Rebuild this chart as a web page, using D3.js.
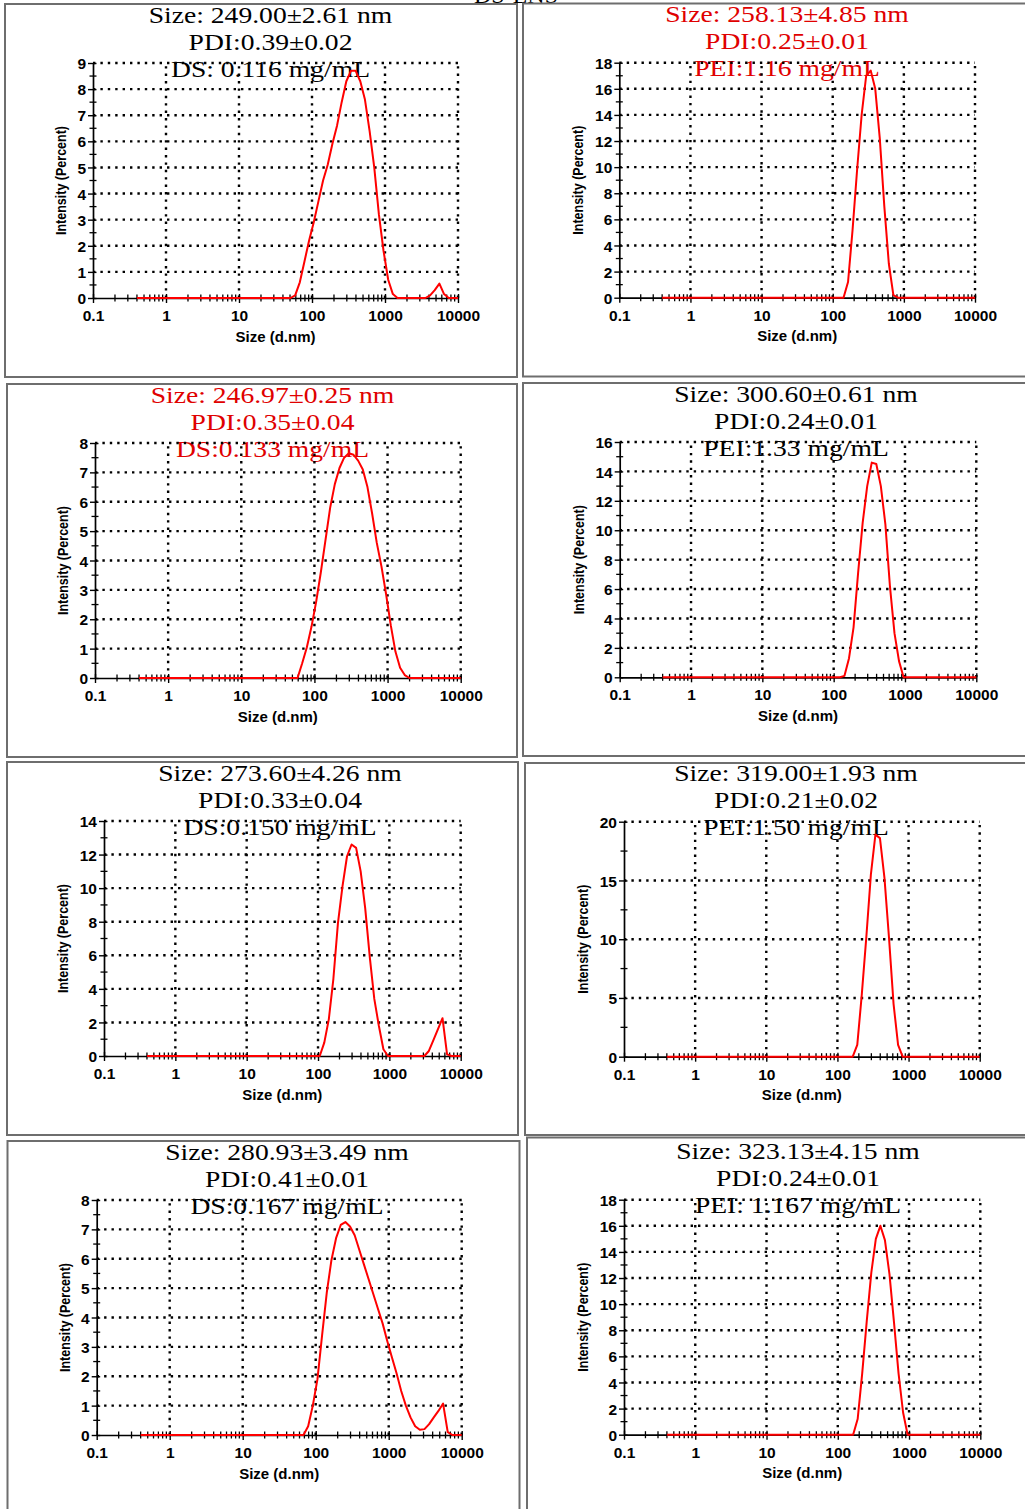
<!DOCTYPE html>
<html>
<head>
<meta charset="utf-8">
<script src="https://cdn.jsdelivr.net/npm/d3@7"></script>
<style>
  body { margin: 0; background: #fff; }
</style>
</head>
<body>
<div id="chart"></div>
<script>
// size bins of the instrument (d.nm)
const sizeBins = [0.4, 0.4632, 0.5365, 0.6213, 0.7195, 0.8332, 0.9649, 1.117, 1.294, 1.499,
  1.736, 2.01, 2.328, 2.696, 3.122, 3.615, 4.187, 4.849, 5.615, 6.503,
  7.531, 8.721, 10.1, 11.7, 13.54, 15.69, 18.17, 21.04, 24.36, 28.21,
  32.67, 37.84, 43.82, 50.75, 58.77, 68.06, 78.82, 91.28, 105.7, 122.4,
  141.8, 164.2, 190.1, 220.2, 255, 295.3, 342, 396.1, 458.7, 531.2,
  615.1, 712.4, 825, 955.4, 1106, 1281, 1484, 1718, 1990, 2305,
  2669, 3091, 3580, 4145, 4801, 5560, 6439, 7456, 8635, 10000];

const sizeTicks = [0.1, 1, 10, 100, 1000, 10000];

// intensity (%) per bin, one array per panel
const intensityDS116 = [0,0,0,0,0,0,0,0,0,0, 0,0,0,0,0,0,0,0,0,0, 0,0,0,0,0,0,0,0,0,0,
  0,0,0,0,0.1,0.6,1.4,2.2,2.9,3.7, 4.5,5.1,5.9,6.6,7.5,8.3,8.7,8.7,8.3,7.6,
  6.4,5.0,3.2,1.8,0.7,0.15,0,0,0,0, 0,0,0,0.1,0.3,0.55,0.15,0,0,0];
const intensityPEI116 = [0,0,0,0,0,0,0,0,0,0, 0,0,0,0,0,0,0,0,0,0, 0,0,0,0,0,0,0,0,0,0,
  0,0,0,0,0,0,0,0,0,0, 0,1.2,5.2,9.8,14.0,17.0,17.4,16.0,12.2,7.0,
  2.6,0.2,0,0,0,0,0,0,0,0, 0,0,0,0,0,0,0,0,0,0];
const intensityDS133 = [0,0,0,0,0,0,0,0,0,0, 0,0,0,0,0,0,0,0,0,0, 0,0,0,0,0,0,0,0,0,0,
  0,0,0,0,0,0.5,1.05,1.75,2.6,3.6, 4.7,5.8,6.6,7.15,7.5,7.65,7.6,7.4,7.1,6.5,
  5.6,4.6,3.8,2.85,1.8,0.9,0.35,0.1,0,0, 0,0,0,0,0,0,0,0,0,0];
const intensityPEI133 = [0,0,0,0,0,0,0,0,0,0, 0,0,0,0,0,0,0,0,0,0, 0,0,0,0,0,0,0,0,0,0,
  0,0,0,0,0,0,0,0,0,0, 0.1,1.3,3.4,7.1,10.5,13.0,14.6,14.5,13.0,10.4,
  6.2,3.0,1.1,0,0,0,0,0,0,0, 0,0,0,0,0,0,0,0,0,0];
const intensityDS150 = [0,0,0,0,0,0,0,0,0,0, 0,0,0,0,0,0,0,0,0,0, 0,0,0,0,0,0,0,0,0,0,
  0,0,0,0,0,0,0,0,0,0.8, 2.2,4.6,7.9,10.1,11.9,12.6,12.4,11.0,8.8,5.9,
  3.4,1.8,0.4,0,0,0,0,0,0,0, 0,0,0.3,0.95,1.6,2.25,0.1,0,0,0];
const intensityPEI150 = [0,0,0,0,0,0,0,0,0,0, 0,0,0,0,0,0,0,0,0,0, 0,0,0,0,0,0,0,0,0,0,
  0,0,0,0,0,0,0,0,0,0, 0,0,1.0,5.3,10.2,15.5,18.9,18.6,15.2,10.1,
  4.5,1.0,0,0,0,0,0,0,0,0, 0,0,0,0,0,0,0,0,0,0];
const intensityDS167 = [0,0,0,0,0,0,0,0,0,0, 0,0,0,0,0,0,0,0,0,0, 0,0,0,0,0,0,0,0,0,0,
  0,0,0,0,0,0,0.3,1.0,1.9,3.4, 4.85,5.95,6.7,7.15,7.25,7.1,6.8,6.3,5.8,5.3,
  4.8,4.3,3.8,3.2,2.65,2.1,1.5,1.0,0.6,0.3, 0.18,0.2,0.37,0.6,0.82,1.07,0.1,0,0,0];
const intensityPEI167 = [0,0,0,0,0,0,0,0,0,0, 0,0,0,0,0,0,0,0,0,0, 0,0,0,0,0,0,0,0,0,0,
  0,0,0,0,0,0,0,0,0,0, 0,0,1.2,4.7,8.7,12.4,15.0,16.0,14.9,12.3,
  8.6,4.7,1.7,0,0,0,0,0,0,0, 0,0,0,0,0,0,0,0,0,0];

const intensities = [intensityDS116, intensityPEI116, intensityDS133, intensityPEI133,
  intensityDS150, intensityPEI150, intensityDS167, intensityPEI167];

const yTicks = [
  [0, 1, 2, 3, 4, 5, 6, 7, 8, 9],
  [0, 2, 4, 6, 8, 10, 12, 14, 16, 18],
  [0, 1, 2, 3, 4, 5, 6, 7, 8],
  [0, 2, 4, 6, 8, 10, 12, 14, 16],
  [0, 2, 4, 6, 8, 10, 12, 14],
  [0, 5, 10, 15, 20],
  [0, 1, 2, 3, 4, 5, 6, 7, 8],
  [0, 2, 4, 6, 8, 10, 12, 14, 16, 18]
];

const sizeLabels = ['Size: 249.00±2.61 nm', 'Size: 258.13±4.85 nm', 'Size: 246.97±0.25 nm', 'Size: 300.60±0.61 nm',
  'Size: 273.60±4.26 nm', 'Size: 319.00±1.93 nm', 'Size: 280.93±3.49 nm', 'Size: 323.13±4.15 nm'];
const pdiLabels = ['PDI:0.39±0.02', 'PDI:0.25±0.01', 'PDI:0.35±0.04', 'PDI:0.24±0.01',
  'PDI:0.33±0.04', 'PDI:0.21±0.02', 'PDI:0.41±0.01', 'PDI:0.24±0.01'];
const concLabels = ['DS: 0.116 mg/mL', 'PEI:1.16 mg/mL', 'DS:0.133 mg/mL', 'PEI:1.33 mg/mL',
  'DS:0.150 mg/mL', 'PEI:1.50 mg/mL', 'DS:0.167 mg/mL', 'PEI: 1.167 mg/mL'];

// layout of each panel (frame box, plot area, title centre, colour)
const layout = [
  { fx: 5,   fy: 4,    fw: 512, fh: 373, x0: 93,    x1: 458,   yT: 63,    yB: 298,    tx: 270.5, red: false },
  { fx: 523, fy: 3.5,  fw: 510, fh: 373, x0: 619.3, x1: 975,   yT: 62.7,  yB: 297.7,  tx: 787,   red: true },
  { fx: 7,   fy: 384,  fw: 510, fh: 373, x0: 95,    x1: 460.7, yT: 443,   yB: 678,    tx: 272.5, red: true },
  { fx: 523, fy: 383,  fw: 510, fh: 373, x0: 619.7, x1: 976.3, yT: 442,   yB: 677.3,  tx: 796,   red: false },
  { fx: 7,   fy: 762,  fw: 511, fh: 373, x0: 104,   x1: 460.7, yT: 821,   yB: 1056,   tx: 280,   red: false },
  { fx: 525, fy: 763,  fw: 510, fh: 372, x0: 624,   x1: 979.7, yT: 821.7, yB: 1056.7, tx: 796,   red: false },
  { fx: 7.5, fy: 1141, fw: 512, fh: 400, x0: 96.7,  x1: 461.7, yT: 1200,  yB: 1435,   tx: 287,   red: false },
  { fx: 527, fy: 1137.5, fw: 510, fh: 400, x0: 624, x1: 980.3, yT: 1199.7, yB: 1434.7, tx: 798,  red: false }
];

const serif = '"Liberation Serif", "Times New Roman", serif';
const sans = '"Liberation Sans", Arial, sans-serif';

const svg = d3.select('#chart').append('svg')
  .attr('width', 1025)
  .attr('height', 1509)
  .style('display', 'block');

svg.append('rect').attr('width', 1025).attr('height', 1509).attr('fill', '#fff');

// heading cut off by the top edge, as in the source figure
svg.append('text')
  .attr('x', 516).attr('y', 2.5)
  .attr('text-anchor', 'middle')
  .attr('font-family', serif).attr('font-size', 24)
  .text('DS-LNS');

layout.forEach((p, i) => {
  const g = svg.append('g');
  const ticksY = yTicks[i];
  const yMax = ticksY[ticksY.length - 1];

  const x = d3.scaleLog().domain([0.1, 10000]).range([p.x0, p.x1]);
  const y = d3.scaleLinear().domain([0, yMax]).range([p.yB, p.yT]);

  g.append('rect')
    .attr('x', p.fx).attr('y', p.fy)
    .attr('width', p.fw).attr('height', p.fh)
    .attr('fill', 'none').attr('stroke', '#6e6e6e').attr('stroke-width', 2);

  // three title lines
  [sizeLabels[i], pdiLabels[i], concLabels[i]].forEach((t, k) => {
    g.append('text')
      .attr('transform', `translate(${p.tx},${p.yT - 40.5 + 27 * k}) scale(1.15,1)`)
      .attr('text-anchor', 'middle')
      .attr('font-family', serif)
      .attr('font-size', 24)
      .attr('fill', p.red ? '#e00000' : '#000')
      .text(t);
  });

  // dotted grid
  const grid = g.append('g')
    .attr('stroke', '#000').attr('stroke-width', 2.4).attr('stroke-dasharray', '2.4,5');
  grid.selectAll('.h').data(ticksY.slice(1)).enter().append('line')
    .attr('x1', p.x0).attr('x2', p.x1)
    .attr('y1', d => y(d)).attr('y2', d => y(d));
  grid.selectAll('.v').data(sizeTicks.slice(1)).enter().append('line')
    .attr('x1', d => x(d)).attr('x2', d => x(d))
    .attr('y1', p.yB).attr('y2', p.yT);

  // minor ticks crossing the axes
  const minorX = x.ticks().filter(d => Math.abs(Math.log10(d) - Math.round(Math.log10(d))) > 1e-6);
  g.append('g').attr('stroke', '#000').attr('stroke-width', 1.3)
    .selectAll('line').data(minorX).enter().append('line')
    .attr('x1', d => x(d)).attr('x2', d => x(d))
    .attr('y1', p.yB - 3.5).attr('y2', p.yB + 3.5);

  const minorY = ticksY.slice(1).map((d, k) => (d + ticksY[k]) / 2);
  g.append('g').attr('stroke', '#000').attr('stroke-width', 1.3)
    .selectAll('line').data(minorY).enter().append('line')
    .attr('x1', p.x0 - 3.5).attr('x2', p.x0 + 3.5)
    .attr('y1', d => y(d)).attr('y2', d => y(d));

  // axes
  const xAxis = g.append('g')
    .attr('transform', `translate(0,${p.yB})`)
    .call(d3.axisBottom(x).tickValues(sizeTicks).tickFormat(d => String(d)).tickSizeOuter(0));
  xAxis.selectAll('.tick line').attr('y1', -4).attr('y2', 5).attr('stroke-width', 1.4);
  xAxis.selectAll('.tick text')
    .attr('y', 23).attr('dy', null)
    .attr('font-family', sans).attr('font-size', 15.5).attr('font-weight', 'bold').attr('fill', '#000');

  const yAxis = g.append('g')
    .attr('transform', `translate(${p.x0},0)`)
    .call(d3.axisLeft(y).tickValues(ticksY).tickSizeOuter(0));
  yAxis.selectAll('.tick line').attr('x1', 3.5).attr('x2', -5).attr('stroke-width', 1.4);
  yAxis.selectAll('.tick text')
    .attr('x', -7).attr('dy', '0.36em')
    .attr('font-family', sans).attr('font-size', 15.5).attr('font-weight', 'bold').attr('fill', '#000');

  [xAxis, yAxis].forEach(a => a.select('.domain').attr('stroke', '#000').attr('stroke-width', 1.7));

  g.append('text')
    .attr('x', (p.x0 + p.x1) / 2).attr('y', p.yB + 43.5)
    .attr('text-anchor', 'middle')
    .attr('font-family', sans).attr('font-size', 15).attr('font-weight', 'bold')
    .text('Size (d.nm)');

  const labelOff = yMax >= 10 ? 36 : 27;
  g.append('text')
    .attr('transform', `translate(${p.x0 - labelOff},${(p.yT + p.yB) / 2}) rotate(-90)`)
    .attr('text-anchor', 'middle')
    .attr('font-family', sans).attr('font-size', 14.5).attr('font-weight', 'bold')
    .attr('textLength', 109).attr('lengthAdjust', 'spacingAndGlyphs')
    .text('Intensity (Percent)');

  // size distribution curve
  const line = d3.line()
    .x((d, k) => x(sizeBins[k]))
    .y(d => y(d));

  g.append('path')
    .datum(intensities[i])
    .attr('d', line)
    .attr('fill', 'none')
    .attr('stroke', '#ff0000')
    .attr('stroke-width', 2)
    .attr('stroke-linejoin', 'round');
});
</script>
</body>
</html>
